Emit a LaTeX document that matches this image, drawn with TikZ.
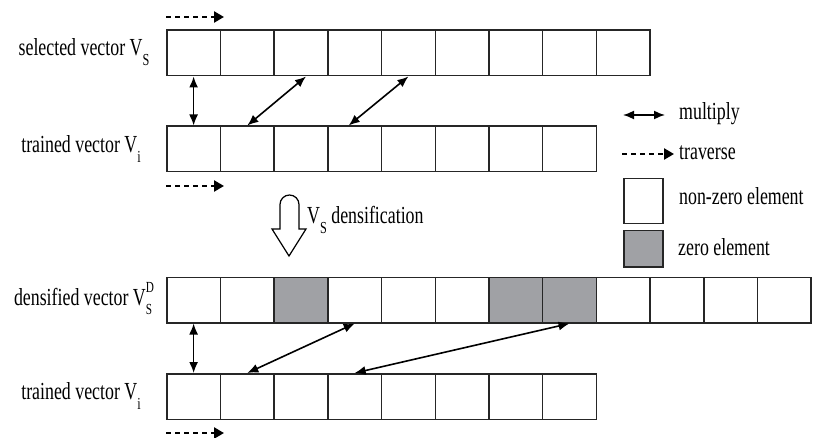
\documentclass[tikz,border=0pt]{standalone}
\usepackage{fontspec}
\setmainfont{Liberation Serif}
\usetikzlibrary{arrows.meta}
\definecolor{zgray}{RGB}{160,161,165}
\newcommand{\stretchy}[1]{\scalebox{1.02}[1.4]{#1}}
\newcommand{\mysb}[1]{\raisebox{-0.4em}{\fontsize{12}{12}\selectfont #1}}
\newcommand{\mysbsp}[2]{\rlap{\raisebox{-0.4em}{\fontsize{11}{11}\selectfont #1}}\raisebox{0.5em}{\fontsize{11}{11}\selectfont #2}}
\begin{document}
\begin{tikzpicture}[x=1pt,y=-1pt,
  cell/.style={draw=black!85, line width=1.5pt, minimum width=53.7pt, minimum height=45.5pt, inner sep=0pt, anchor=north west, fill=white},
  zero/.style={cell, fill=zgray},
  lbl/.style={font=\fontsize{17.5}{17.5}\selectfont, inner sep=0pt},
  mult/.style={line width=1.6pt, {Latex[length=11pt,width=9pt]}-{Latex[length=11pt,width=9pt]}},
  trav/.style={line width=2.6pt, dash pattern=on 5pt off 4pt, -{Triangle[length=10pt,width=11pt]}}]
\useasboundingbox (0,0) rectangle (813,438);
% rows
\foreach \i in {1,...,9} \node[cell] (a\i) at ({166+53.7*(\i-1)},29.5) {};
\foreach \i in {1,...,8} \node[cell] (b\i) at ({166+53.7*(\i-1)},125.5) {};
\foreach \i in {1,2,4,5,6,9,10,11,12} \node[cell] (c\i) at ({166+53.7*(\i-1)},276.5) {};
\foreach \i in {3,7,8} \node[zero] (c\i) at ({166+53.7*(\i-1)},276.5) {};
\foreach \i in {1,...,8} \node[cell] (d\i) at ({166+53.7*(\i-1)},373) {};
% labels
\node[lbl] (la) at (84,52) {\stretchy{selected vector V\mysb{S}}};
\node[lbl] (lb) at (81,149) {\stretchy{trained vector V\mysb{i}}};
\node[lbl] (lc) at (84,299) {\stretchy{densified vector V\mysbsp{S}{D}}};
\node[lbl] (ld) at (81,396) {\stretchy{trained vector V\mysb{i}}};
% multiply arrows
\draw[mult] (a1.south) -- (b1.north);
\draw[mult] ([xshift=5pt]a3.south) -- (b2.north);
\draw[mult] (a5.south) -- ([xshift=-6pt]b4.north);
\draw[mult] (c1.south) -- (d1.north);
\draw[mult] (c4.south) -- (d2.north);
\draw[mult] (c8.south) -- (d4.north);
% traverse arrows
\coordinate (t1s) at (166,17); \coordinate (t1e) at (224,17);
\coordinate (t2s) at (166,186); \coordinate (t2e) at (224,186);
\coordinate (t3s) at (166,433); \coordinate (t3e) at (224,433);
\draw[trav] (t1s) -- (t1e);
\draw[trav] (t2s) -- (t2e);
\draw[trav] (t3s) -- (t3e);
% densification block arrow
\draw[line width=1.2pt, fill=white] (280,229) -- (280,204.5) arc[start angle=180, end angle=360, radius=9.5] -- (299,229) -- (306,229) -- (289,256) -- (272,229) -- cycle;
\node[lbl, anchor=west] (dens) at (307,220) {\stretchy{V\mysb{S} densification}};
% legend
\coordinate (m1) at (623,115); \coordinate (m2) at (665,115);
\draw[mult] (m1) -- (m2);
\node[lbl, anchor=west] (lm) at (679,114) {\stretchy{multiply}};
\coordinate (v1) at (622,154); \coordinate (v2) at (674,154);
\draw[trav] (v1) -- (v2);
\node[lbl, anchor=west] (lv) at (679,153) {\stretchy{traverse}};
\node[cell, minimum width=39pt, minimum height=45pt] (nz) at (623,178) {};
\node[lbl, anchor=west] (lnz) at (679,196) {\stretchy{non-zero element}};
\node[zero, minimum width=39pt, minimum height=36pt] (zz) at (623,230) {};
\node[lbl, anchor=west] (lz) at (678,247) {\stretchy{zero element}};
\end{tikzpicture}
\end{document}
